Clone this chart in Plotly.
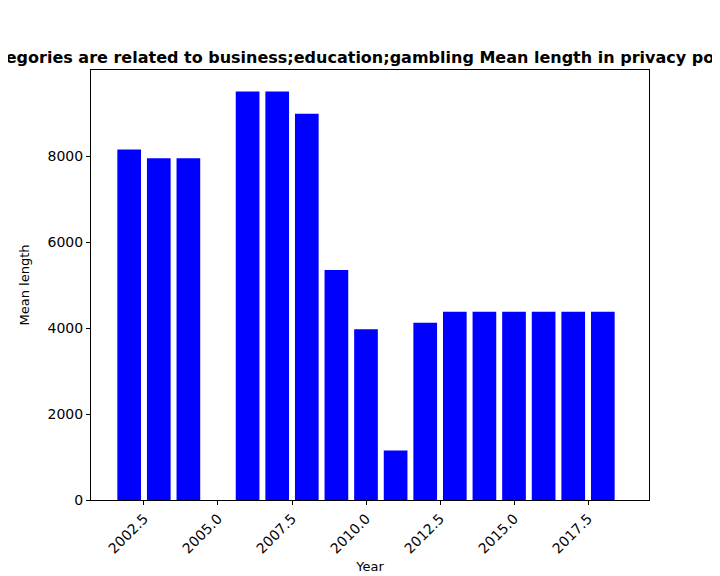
import plotly.graph_objects as go

years = [2002, 2003, 2004, 2006, 2007, 2008, 2009, 2010, 2011, 2012,
         2013, 2014, 2015, 2016, 2017, 2018]
mean_length = [8150, 7950, 7950, 9500, 9500, 8980, 5350, 3970, 1150, 4120,
               4380, 4380, 4380, 4380, 4380, 4380]
x_ticks = [2002.5, 2005.0, 2007.5, 2010.0, 2012.5, 2015.0, 2017.5]

fig = go.Figure(go.Bar(x=years, y=mean_length, width=0.8,
                       marker=dict(color='#0000ff', line=dict(width=0))))

axis_style = dict(showline=True, linecolor='black', linewidth=1, mirror=True,
                  ticks='outside', ticklen=4, tickcolor='black', showgrid=False,
                  zeroline=False, tickfont=dict(size=14, color='black'))

fig.update_xaxes(range=[2000.71, 2019.56], tickvals=x_ticks,
                 ticktext=[f'{v:.1f}' for v in x_ticks], tickangle=-45,
                 title=dict(text='Year', font=dict(size=13, color='black'), standoff=6),
                 **axis_style)
fig.update_yaxes(range=[0, 10000], tickvals=[0, 2000, 4000, 6000, 8000],
                 title=dict(text='Mean length', font=dict(size=13, color='black')),
                 **axis_style)

fig.update_layout(
    width=720, height=576,
    paper_bgcolor='white', plot_bgcolor='white',
    margin=dict(l=83, r=79, t=62, b=66),
    font=dict(family='DejaVu Sans'),
    title=dict(text='<b>Categories are related to business;education;gambling Mean length in privacy policies</b>',
               x=0.5, xanchor='center', y=0.914, yanchor='middle',
               font=dict(size=16, color='black')),
    showlegend=False,
)

fig.write_html('out.html')
